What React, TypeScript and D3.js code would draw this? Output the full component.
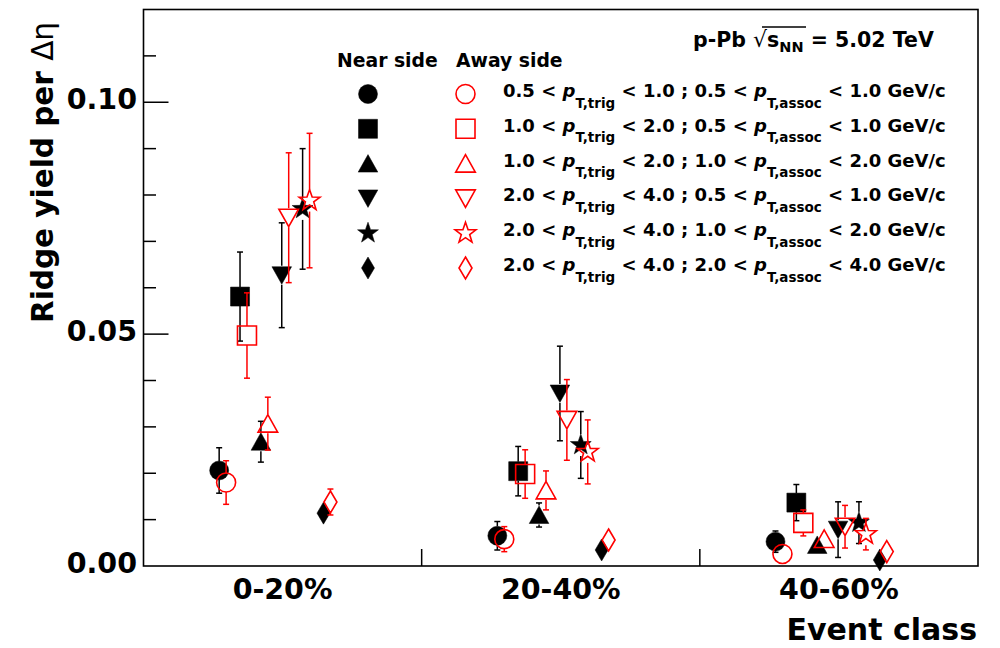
import React from "react";
import * as d3 from "d3";

const categories = ["0-20%", "20-40%", "40-60%"];
const markerShapes = ["circle", "square", "triUp", "triDown", "star", "diamond"];
const trigLo = ["0.5", "1.0", "1.0", "2.0", "2.0", "2.0"];
const trigHi = ["1.0", "2.0", "2.0", "4.0", "4.0", "4.0"];
const assocLo = ["0.5", "0.5", "1.0", "0.5", "1.0", "2.0"];
const assocHi = ["1.0", "1.0", "2.0", "1.0", "2.0", "4.0"];

// near side values [series][category]
const nearValues = [
  [0.0206, 0.00652, 0.00525],
  [0.0581, 0.02045, 0.01367],
  [0.0268, 0.011, 0.00454],
  [0.0627, 0.0372, 0.00784],
  [0.077, 0.0261, 0.00935],
  [0.0114, 0.00346, 0.0013],
];
const nearErrors = [
  [0.0049, 0.00307, 0.0023],
  [0.0096, 0.00533, 0.0039],
  [0.0044, 0.0026, 0.0015],
  [0.0113, 0.0102, 0.006],
  [0.013, 0.0072, 0.0045],
  [0.0015, 0.0012, 0.001],
];
// away side values
const awayValues = [
  [0.018, 0.00579, 0.0026],
  [0.0497, 0.01983, 0.00929],
  [0.0307, 0.0163, 0.00583],
  [0.0751, 0.0315, 0.00847],
  [0.0788, 0.0246, 0.00687],
  [0.0138, 0.0056, 0.0031],
];
const awayErrors = [
  [0.0047, 0.0027, 0.0012],
  [0.0092, 0.00523, 0.0028],
  [0.0057, 0.0042, 0.0018],
  [0.014, 0.0087, 0.0046],
  [0.0145, 0.0069, 0.0034],
  [0.0028, 0.0015, 0.0012],
];
const yTickValues = [0, 0.01, 0.02, 0.03, 0.04, 0.05, 0.06, 0.07, 0.08, 0.09, 0.1, 0.11];

const W = 1000;
const H = 648;
const FL = 143.5, FR = 978, FT = 9.5, FB = 566;
const FONT = "'DejaVu Sans', sans-serif";
const RED = "#ff0000";

const x = d3.scaleLinear().domain([0, categories.length]).range([FL, FR]);
const y = d3.scaleLinear().domain([0, 0.12]).range([FB, FT]);

const offsetBase = 0.272;
const offsetStep = 0.075;
const awayShift = 0.025;

function markerPath(shape: string): string {
  const p = d3.path();
  if (shape === "circle") {
    p.arc(0, 0, 9.5, 0, Math.PI * 2);
  } else if (shape === "square") {
    p.rect(-9.5, -9.5, 19, 19);
  } else if (shape === "triUp") {
    p.moveTo(0, -9);
    p.lineTo(9.8, 8.5);
    p.lineTo(-9.8, 8.5);
    p.closePath();
  } else if (shape === "triDown") {
    p.moveTo(0, 9);
    p.lineTo(9.8, -8.5);
    p.lineTo(-9.8, -8.5);
    p.closePath();
  } else if (shape === "star") {
    const ro = 11, ri = 4.4;
    for (let k = 0; k < 10; k++) {
      const r = k % 2 === 0 ? ro : ri;
      const a = -Math.PI / 2 + (k * Math.PI) / 5;
      const px = r * Math.cos(a), py = r * Math.sin(a);
      if (k === 0) p.moveTo(px, py);
      else p.lineTo(px, py);
    }
    p.closePath();
  } else {
    p.moveTo(0, -11);
    p.lineTo(6.5, 0);
    p.lineTo(0, 11);
    p.lineTo(-6.5, 0);
    p.closePath();
  }
  return p.toString();
}

function halfSize(shape: string) {
  return shape === "diamond" || shape === "star" ? 11 : 9.5;
}

function Marker({ shape, cx, cy, filled }: { shape: string; cx: number; cy: number; filled: boolean }) {
  return (
    <path
      d={markerPath(shape)}
      transform={`translate(${cx},${cy})`}
      fill={filled ? "#000" : "none"}
      stroke={filled ? "#000" : RED}
      strokeWidth={filled ? 0.5 : 1.6}
      strokeLinejoin="miter"
    />
  );
}

function ErrorBar({ shape, cx, v, e, color }: { shape: string; cx: number; v: number; e: number; color: string }) {
  const cy = y(v);
  const yt = y(v + e);
  const yb = y(v - e);
  const h = halfSize(shape);
  const parts: React.ReactNode[] = [];
  if (cy - yt > h) {
    parts.push(<line key="t" x1={cx} x2={cx} y1={yt} y2={cy - h} />);
  }
  if (cy - yt > h - 1) {
    parts.push(<line key="tc" x1={cx - 3} x2={cx + 3} y1={yt} y2={yt} />);
  }
  if (yb - cy > h) {
    parts.push(<line key="b" x1={cx} x2={cx} y1={cy + h} y2={yb} />);
  }
  if (yb - cy > h - 1) {
    parts.push(<line key="bc" x1={cx - 3} x2={cx + 3} y1={yb} y2={yb} />);
  }
  return (
    <g stroke={color} strokeWidth={1.5}>
      {parts}
    </g>
  );
}

export default function App() {
  const legendRowY = (i: number) => 94 + i * 34.8;
  return (
    <svg
      width={W}
      height={H}
      viewBox={`0 0 ${W} ${H}`}
      style={{ position: "absolute", left: 0, top: 0, background: "#fff" }}
      fontFamily={FONT}
    >
      <rect x={0} y={0} width={W} height={H} fill="#fff" />

      {/* near side: error bars then markers */}
      {markerShapes.map((shape, s) =>
        categories.map((_, c) => {
          const cxN = x(c + offsetBase + offsetStep * s);
          return (
            <ErrorBar key={`e-${s}-${c}`} shape={shape} cx={cxN} v={nearValues[s][c]} e={nearErrors[s][c]} color="#000" />
          );
        })
      )}
      {markerShapes.map((shape, s) =>
        categories.map((_, c) => {
          const cxN = x(c + offsetBase + offsetStep * s);
          return <Marker key={`n-${s}-${c}`} shape={shape} cx={cxN} cy={y(nearValues[s][c])} filled={true} />;
        })
      )}
      {/* away side */}
      {markerShapes.map((shape, s) =>
        categories.map((_, c) => {
          const cxA = x(c + offsetBase + offsetStep * s + awayShift);
          return (
            <g key={`a-${s}-${c}`}>
              <ErrorBar shape={shape} cx={cxA} v={awayValues[s][c]} e={awayErrors[s][c]} color={RED} />
              <Marker shape={shape} cx={cxA} cy={y(awayValues[s][c])} filled={false} />
            </g>
          );
        })
      )}

      {/* frame */}
      <rect x={FL} y={FT} width={FR - FL} height={FB - FT} fill="none" stroke="#000" strokeWidth={1.6} />

      {/* y ticks */}
      {yTickValues.map((t, i) => {
        const major = i % 5 === 0;
        const len = major ? 25 : 12.5;
        return (
          <g key={`yt-${i}`}>
            {t > 0 && <line x1={FL} x2={FL + len} y1={y(t)} y2={y(t)} stroke="#000" strokeWidth={1.5} />}
            {major && (
              <text x={137} y={y(t) + 7} textAnchor="end" fontSize={28.5} fontWeight="bold">
                {d3.format(".2f")(t)}
              </text>
            )}
          </g>
        );
      })}

      {/* x ticks & labels */}
      {categories.map((cat, c) => (
        <g key={`xc-${c}`}>
          {c > 0 && <line x1={x(c)} x2={x(c)} y1={FB} y2={FB - 17} stroke="#000" strokeWidth={1.5} />}
          <text x={x(c + 0.5)} y={599} textAnchor="middle" fontSize={28.5} fontWeight="bold">
            {cat}
          </text>
        </g>
      ))}

      {/* axis titles */}
      <text x={977} y={640} textAnchor="end" fontSize={30} fontWeight="bold">
        Event class
      </text>
      <text transform="translate(53,323) rotate(-90)" textAnchor="start" fontSize={29.5} fontWeight="bold">
        Ridge yield per <tspan fontWeight="normal">Δη</tspan>
      </text>

      {/* header */}
      <text x={693} y={46.5} fontSize={20.5} fontWeight="bold">
        p-Pb{" "}
        <tspan fontWeight="normal" fontSize={22}>
          √
        </tspan>
        <tspan>s</tspan>
        <tspan fontSize={14.5} dy={5}>
          NN
        </tspan>
        <tspan dy={-5}> = 5.02 TeV</tspan>
      </text>
      <line x1={762} x2={806} y1={27} y2={27} stroke="#000" strokeWidth={1.4} />

      {/* legend */}
      <text x={337} y={66.5} fontSize={18.8} fontWeight="bold">
        Near side
      </text>
      <text x={456} y={66.5} fontSize={18.8} fontWeight="bold">
        Away side
      </text>
      {markerShapes.map((shape, s) => {
        const ry = legendRowY(s);
        return (
          <g key={`lg-${s}`}>
            <Marker shape={shape} cx={368} cy={ry} filled={true} />
            <Marker shape={shape} cx={465.5} cy={ry} filled={false} />
            <text x={503} y={ry + 3} fontSize={18} fontWeight="bold">
              {trigLo[s]} &lt; <tspan fontStyle="italic">p</tspan>
              <tspan fontSize={13.5} dy={10.5}>
                T,trig
              </tspan>
              <tspan dy={-10.5}>
                {" "}
                &lt; {trigHi[s]} ; {assocLo[s]} &lt;{" "}
              </tspan>
              <tspan fontStyle="italic">p</tspan>
              <tspan fontSize={13.5} dy={10.5}>
                T,assoc
              </tspan>
              <tspan dy={-10.5}> &lt; {assocHi[s]} GeV/c</tspan>
            </text>
          </g>
        );
      })}
    </svg>
  );
}
